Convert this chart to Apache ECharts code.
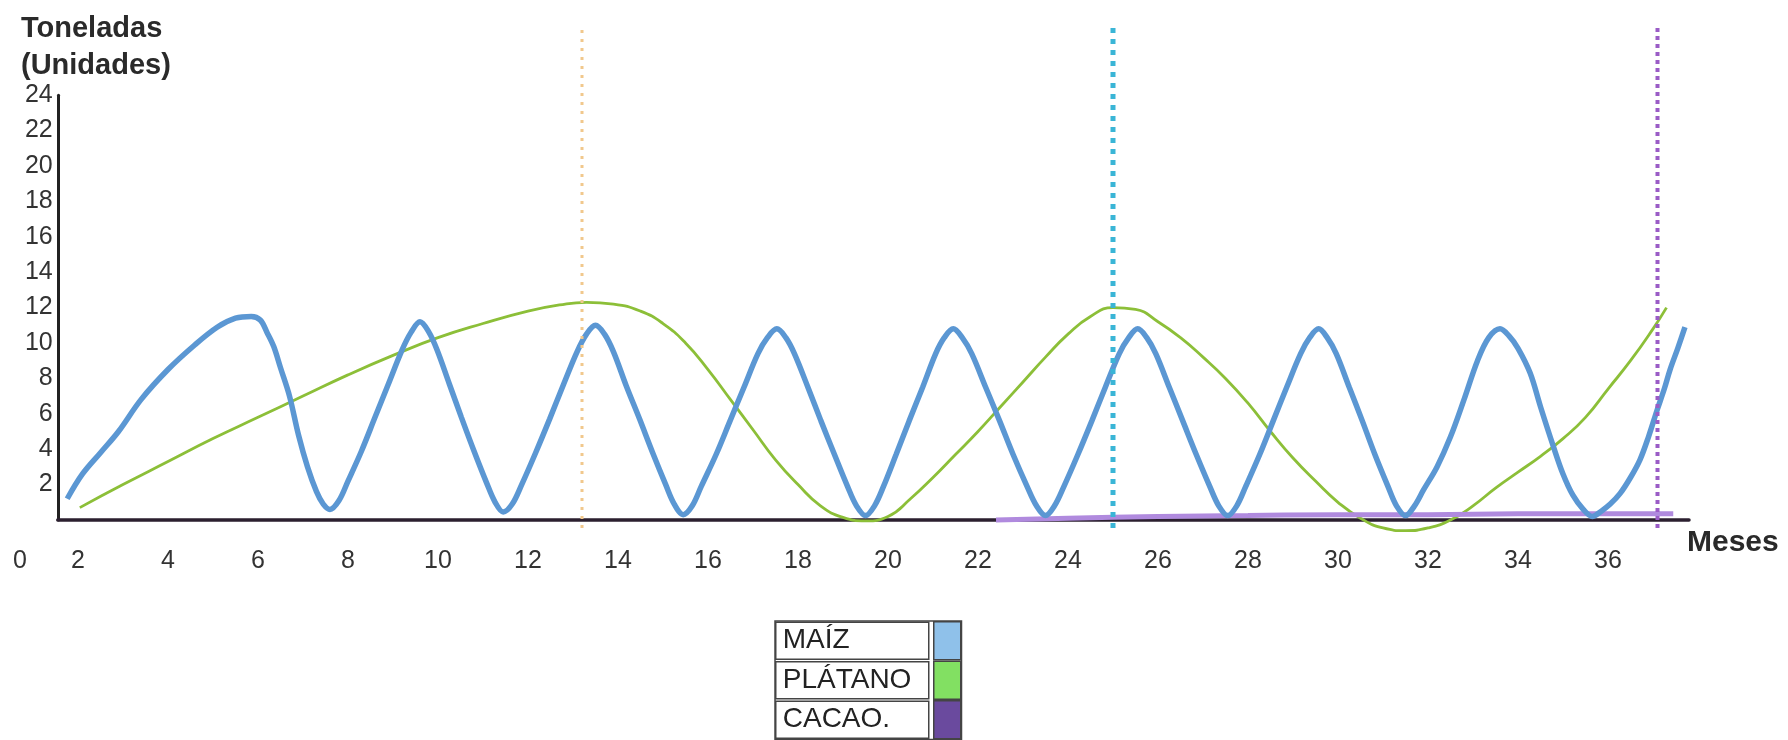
<!DOCTYPE html>
<html>
<head>
<meta charset="utf-8">
<script src="https://cdn.jsdelivr.net/npm/echarts@6/dist/echarts.min.js"></script>
<style>
  html, body { margin: 0; padding: 0; background: #ffffff; }
  #chart { width: 1788px; height: 740px; }
</style>
</head>
<body>
<div id="chart"></div>
<script>
// ---- Data ----
const seriesNames = ['MAÍZ', 'PLÁTANO', 'CACAO.'];
const xTickLabels = [2, 4, 6, 8, 10, 12, 14, 16, 18, 20, 22, 24, 26, 28, 30, 32, 34, 36];
const yTickLabels = [2, 4, 6, 8, 10, 12, 14, 16, 18, 20, 22, 24];

// [mes, toneladas]
const maiz = [
  [1.76, 1.2], [2.1, 2.6], [2.5, 3.8], [2.9, 5.0], [3.4, 6.8], [4.0, 8.5], [4.6, 9.9], [5.1, 10.9], [5.5, 11.4], [5.85, 11.5],
  [6.05, 11.3], [6.2, 10.6], [6.35, 9.8], [6.5, 8.6], [6.7, 7.0], [6.9, 4.8], [7.1, 3.0], [7.3, 1.6], [7.45, 0.9], [7.6, 0.6],
  [7.8, 1.1], [8.0, 2.2], [8.3, 3.9], [8.6, 5.8], [8.9, 7.7], [9.2, 9.6], [9.4, 10.6], [9.6, 11.2],
  [9.8, 10.6], [9.98, 9.6], [10.25, 7.7], [10.52, 5.8], [10.8, 3.9], [11.08, 2.1], [11.27, 1.0], [11.45, 0.45],
  [11.65, 0.9], [11.86, 2.0], [12.17, 3.8], [12.48, 5.7], [12.78, 7.6], [13.09, 9.5], [13.3, 10.5], [13.5, 11.0],
  [13.7, 10.5], [13.9, 9.5], [14.18, 7.6], [14.48, 5.7], [14.77, 3.8], [15.06, 2.0], [15.25, 0.9], [15.45, 0.3],
  [15.65, 0.8], [15.85, 1.9], [16.18, 3.7], [16.49, 5.6], [16.8, 7.5], [17.11, 9.4], [17.32, 10.3], [17.53, 10.8],
  [17.73, 10.3], [17.92, 9.4], [18.22, 7.5], [18.51, 5.6], [18.81, 3.7], [19.1, 1.9], [19.3, 0.8], [19.5, 0.25],
  [19.7, 0.8], [19.9, 1.9], [20.18, 3.7], [20.47, 5.6], [20.77, 7.5], [21.06, 9.4], [21.25, 10.3], [21.45, 10.8],
  [21.65, 10.3], [21.86, 9.4], [22.17, 7.5], [22.48, 5.6], [22.78, 3.7], [23.09, 1.9], [23.3, 0.8], [23.5, 0.25],
  [23.7, 0.8], [23.91, 1.9], [24.22, 3.7], [24.53, 5.6], [24.83, 7.5], [25.14, 9.4], [25.35, 10.3], [25.55, 10.8],
  [25.75, 10.3], [25.95, 9.4], [26.25, 7.5], [26.55, 5.6], [26.85, 3.7], [27.15, 1.9], [27.35, 0.8], [27.55, 0.25],
  [27.75, 0.8], [27.95, 1.9], [28.26, 3.7], [28.56, 5.6], [28.86, 7.5], [29.17, 9.4], [29.37, 10.3], [29.57, 10.8],
  [29.76, 10.3], [29.96, 9.4], [30.25, 7.5], [30.54, 5.6], [30.82, 3.7], [31.11, 1.9], [31.3, 0.8], [31.5, 0.25],
  [31.7, 0.8], [31.9, 1.7], [32.2, 3.0], [32.5, 4.7], [32.8, 6.8], [33.1, 9.0], [33.35, 10.3], [33.6, 10.8],
  [33.8, 10.4], [34.0, 9.7], [34.27, 8.3], [34.5, 6.4], [34.78, 4.2], [35.0, 2.6], [35.22, 1.4], [35.45, 0.6], [35.65, 0.2],
  [35.85, 0.5], [36.05, 0.9], [36.27, 1.5], [36.5, 2.4], [36.71, 3.4], [36.9, 4.7], [37.09, 6.2], [37.25, 7.4], [37.38, 8.5], [37.55, 9.7], [37.71, 10.9]
];

const platano = [
  [2.04, 0.7], [3.0, 2.0], [4.0, 3.3], [5.0, 4.6], [6.0, 5.8], [7.0, 7.0], [8.0, 8.2], [9.0, 9.3],
  [10.0, 10.3], [11.0, 11.1], [12.0, 11.8], [12.7, 12.15], [13.3, 12.3], [13.9, 12.2], [14.5, 11.8],
  [15.0, 11.1], [15.5, 10.0], [16.0, 8.5], [16.5, 6.8], [17.0, 5.1], [17.5, 3.4], [18.0, 2.0],
  [18.5, 0.8], [19.0, 0.15], [19.5, -0.05], [20.0, 0.2], [20.5, 1.2], [21.0, 2.4], [21.5, 3.7],
  [22.0, 5.0], [22.5, 6.4], [23.0, 7.8], [23.5, 9.2], [24.0, 10.5], [24.5, 11.5], [25.0, 12.0],
  [25.5, 11.9], [26.0, 11.2], [26.5, 10.3], [27.0, 9.2], [27.5, 8.0], [28.0, 6.6], [28.5, 5.0],
  [29.0, 3.5], [29.5, 2.2], [30.0, 1.0], [30.5, 0.1], [31.0, -0.45], [31.5, -0.6], [32.0, -0.45],
  [32.5, 0.0], [33.0, 0.8], [33.5, 1.8], [34.0, 2.7], [34.5, 3.6], [35.0, 4.6], [35.5, 5.8],
  [36.0, 7.4], [36.5, 9.0], [37.0, 10.8], [37.3, 12.0]
];

const cacao = [
  [22.4, 0.0], [24.0, 0.1], [26.0, 0.2], [28.0, 0.25], [30.0, 0.3], [32.0, 0.3], [34.0, 0.35], [36.0, 0.35], [37.45, 0.35]
];

// vertical dotted reference lines (month) and their vertical extent (toneladas)
const lineasMes = [13.2, 25.0, 37.1];
const lineasColor = ['#f1c88c', '#3ab5d6', '#9a5cc6'];
const lineasDash = [[3, 6], [5, 6], [4, 4]];
const lineasAncho = [3, 5, 4];
const lineasRango = [-0.45, 28.0];

const FONT = "'Liberation Sans', Arial, sans-serif";

const chart = echarts.init(document.getElementById('chart'), null, { renderer: 'canvas' });

const refSeries = lineasMes.map((m, i) => ({
  name: 'ref' + i,
  type: 'line',
  data: [[m, lineasRango[0]], [m, lineasRango[1]]],
  showSymbol: false,
  clip: false,
  silent: true,
  lineStyle: { color: lineasColor[i], type: lineasDash[i], width: lineasAncho[i] },
  z: 5
}));

chart.setOption({
  animation: false,
  backgroundColor: '#ffffff',
  title: {
    text: 'Toneladas\n(Unidades)',
    left: 16,
    top: 5,
    textStyle: { fontFamily: FONT, fontSize: 29, fontWeight: 'bold', color: '#2a2a2a', lineHeight: 37 }
  },
  graphic: [{
    type: 'text',
    left: 13,
    top: 549,
    style: { text: '0', fontFamily: FONT, fontSize: 25, fill: '#333' }
  }],
  legend: {
    orient: 'vertical',
    left: 775,
    top: 621,
    height: 160,
    itemGap: 0,
    itemWidth: 27,
    itemHeight: 38,
    align: 'right',
    padding: 0,
    borderColor: '#444',
    borderWidth: 1.5,
    icon: 'rect',
    selectedMode: false,
    formatter: name => '{t|' + name + '}',
    textStyle: {
      fontFamily: FONT, fontSize: 28, color: '#222',
      rich: {
        t: {
          fontFamily: FONT, fontSize: 28, color: '#222',
          width: 146, height: 37, lineHeight: 37, align: 'left', padding: [0, 0, 0, 7],
          borderColor: '#444', borderWidth: 1.5
        }
      }
    },
    itemStyle: { borderColor: '#444', borderWidth: 1.5 },
    data: [
      { name: seriesNames[0], itemStyle: { color: '#8fc1ea' } },
      { name: seriesNames[1], itemStyle: { color: '#82e062' } },
      { name: seriesNames[2], itemStyle: { color: '#6a4a9e' } }
    ]
  },
  grid: { left: 57.75, right: 99, top: 95.2, bottom: 220 },
  xAxis: {
    type: 'value',
    min: 1.55,
    max: 37.8,
    name: 'Meses',
    nameLocation: 'end',
    nameGap: -2,
    nameTextStyle: { fontFamily: FONT, fontSize: 30, fontWeight: 'bold', color: '#2a2a2a', align: 'left', verticalAlign: 'top', padding: [8, 0, 0, 0] },
    axisLine: { show: true, lineStyle: { color: '#2b1f2f', width: 3.5 } },
    axisTick: { show: false },
    splitLine: { show: false },
    axisLabel: { customValues: xTickLabels, fontFamily: FONT, fontSize: 25, color: '#333', margin: 29 }
  },
  yAxis: {
    type: 'value',
    min: 0,
    max: 24,
    axisLine: { show: true, lineStyle: { color: '#222', width: 3 } },
    axisTick: { show: false },
    splitLine: { show: false },
    axisLabel: { customValues: yTickLabels, fontFamily: FONT, fontSize: 25, color: '#333', margin: 5 }
  },
  series: [
    {
      name: seriesNames[1],
      type: 'line',
      data: platano,
      smooth: 0.5,
      showSymbol: false,
      clip: false,
      lineStyle: { color: '#8cbf38', width: 2.8 },
      itemStyle: { color: '#82e062' },
      z: 3
    },
    {
      name: seriesNames[2],
      type: 'line',
      data: cacao,
      smooth: true,
      showSymbol: false,
      clip: false,
      lineStyle: { color: '#b08ade', width: 5 },
      itemStyle: { color: '#6a4a9e' },
      z: 3
    },
    {
      name: seriesNames[0],
      type: 'line',
      data: maiz,
      smooth: 0.35,
      showSymbol: false,
      clip: false,
      lineStyle: { color: '#5b97d3', width: 5.5 },
      itemStyle: { color: '#8fc1ea' },
      z: 4
    }
  ].concat(refSeries)
});
</script>
</body>
</html>
